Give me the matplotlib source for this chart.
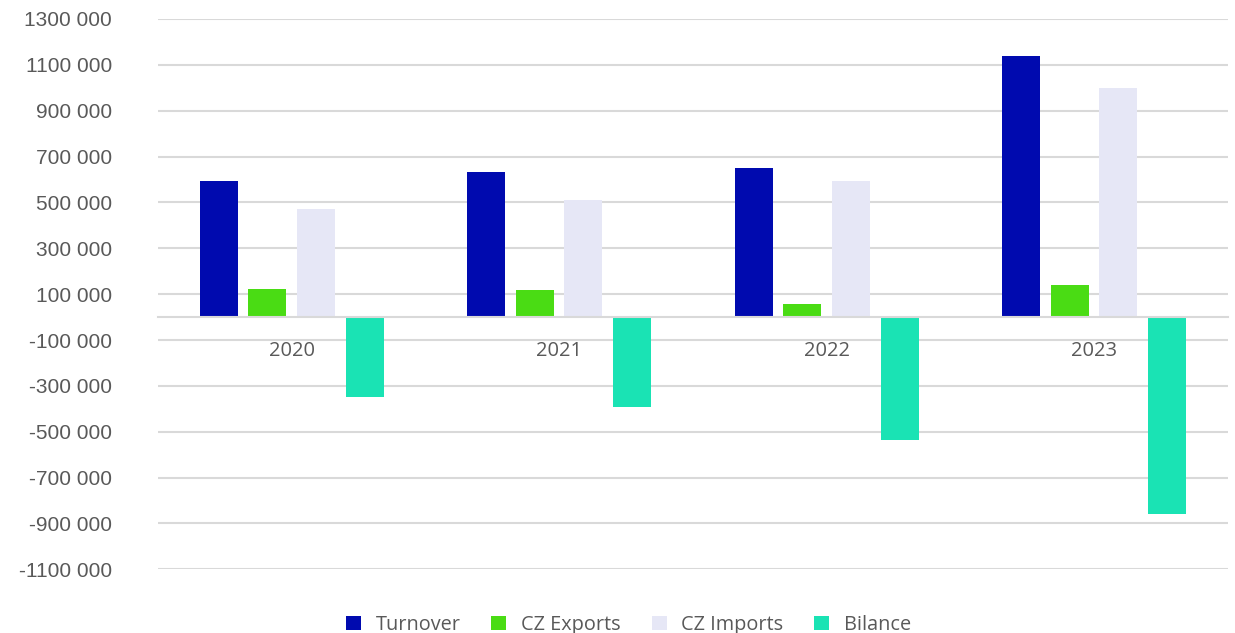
import matplotlib
matplotlib.use("Agg")
import matplotlib.pyplot as plt
import numpy as np
from matplotlib.ticker import FuncFormatter, MultipleLocator

years = ["2020", "2021", "2022", "2023"]
series_names = ["Turnover", "CZ Exports", "CZ Imports", "Bilance"]
turnover = [592000, 631000, 648000, 1140000]
cz_exports = [121000, 119000, 56000, 139000]
cz_imports = [471000, 511000, 592000, 1000000]
bilance = [-350000, -392000, -536000, -860000]
series_values = [turnover, cz_exports, cz_imports, bilance]
colors = ["#000AAF", "#4ADC14", "#E6E7F6", "#1AE3B4"]

text_color = "#595959"
grid_color = "#D9D9D9"


def thousands(value, _pos):
    value = int(round(value))
    sign = "-" if value < 0 else ""
    value = abs(value)
    return f"{sign}{value // 1000} {value % 1000:03d}"


fig = plt.figure(figsize=(12.35, 6.33), dpi=100)
ax = fig.add_axes([0.128, 0.1006, 0.866, 0.8694])

x = np.arange(len(years))
step = 0.182
width = 0.142
for index, (name, values) in enumerate(zip(series_names, series_values)):
    offset = (index - 1.5) * step
    ax.bar(x + offset, values, width=width, color=colors[index], label=name, zorder=3)

ax.set_xlim(-0.5, len(years) - 0.5)
ax.set_ylim(-1100000, 1300000)
ax.yaxis.set_major_locator(MultipleLocator(200000, offset=100000))
ax.yaxis.set_major_formatter(FuncFormatter(thousands))
ax.grid(axis="y", color=grid_color, linewidth=1.5, zorder=0)

for side in ("top", "right", "left"):
    ax.spines[side].set_visible(False)
ax.spines["bottom"].set_position(("data", 0))
ax.spines["bottom"].set_color(grid_color)
ax.spines["bottom"].set_linewidth(1.5)
ax.spines["bottom"].set_zorder(4)

ax.set_xticks(x)
ax.set_xticklabels(years, fontfamily="Open Sans", fontsize=14.5, color=text_color)
ax.tick_params(axis="x", length=0, pad=17)
ax.tick_params(axis="y", length=0, pad=33, labelsize=15, labelcolor=text_color)
for label in ax.get_yticklabels():
    label.set_fontfamily("Liberation Sans")

legend = fig.legend(
    loc="lower center",
    bbox_to_anchor=(0.509, -0.031),
    ncol=4,
    frameon=False,
    handlelength=0.75,
    handleheight=0.75,
    handletextpad=0.75,
    columnspacing=1.55,
    prop={"family": "Open Sans", "size": 14.3},
)
for text in legend.get_texts():
    text.set_color(text_color)

fig.savefig("out.png", dpi=100)
